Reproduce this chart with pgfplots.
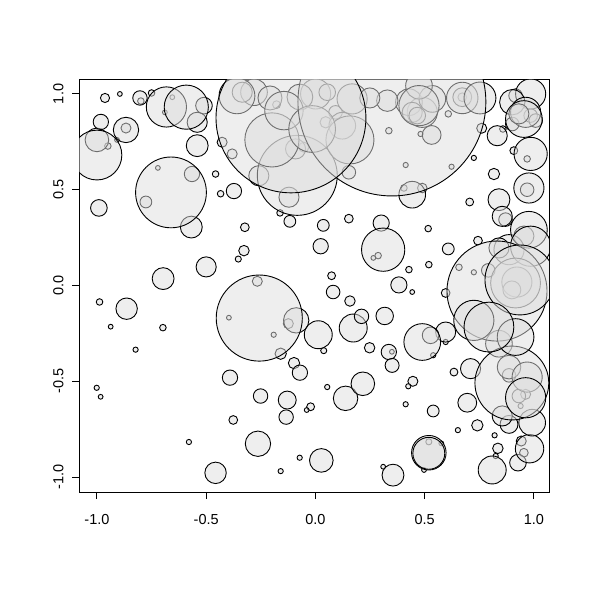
\documentclass[border=0pt]{standalone}
\usepackage{fontspec}
\setmainfont{Liberation Sans}
\usepackage{pgfplots}
\usepackage{pgfplotstable}
\pgfplotsset{compat=1.18}
\definecolor{cfill}{gray}{0.866}

% x y r  (r in x units)
\pgfplotstableread{
x y r
-0.950 0.728 0.015
-0.908 0.760 0.011
-0.963 0.979 0.021
-0.895 1.000 0.011
-0.799 0.963 0.015
-0.867 0.822 0.023
-0.776 0.436 0.027
-0.721 0.614 0.011
-0.457 0.582 0.015
-0.353 0.138 0.014
-0.323 0.304 0.020
-0.327 0.182 0.024
-0.988 -0.086 0.015
-0.937 -0.215 0.011
-0.698 -0.220 0.015
-0.823 -0.335 0.012
-1.001 -0.534 0.012
-0.983 -0.581 0.011
-0.396 -0.168 0.011
-0.376 -0.702 0.020
-0.579 -0.817 0.012
-0.022 -0.633 0.018
-0.040 -0.650 0.011
-0.072 -0.899 0.012
-0.159 -0.969 0.012
0.310 -0.946 0.011
0.081 -0.034 0.031
0.158 -0.081 0.024
-0.124 -0.199 0.023
-0.191 -0.257 0.012
0.038 -0.340 0.014
-0.159 -0.356 0.026
-0.098 -0.405 0.026
0.248 -0.325 0.024
0.350 -0.346 0.011
0.054 -0.530 0.012
-0.162 0.379 0.015
-0.117 0.335 0.027
0.036 0.314 0.027
0.153 0.349 0.020
0.287 0.156 0.015
0.265 0.144 0.011
0.074 0.051 0.018
-0.266 0.022 0.023
0.489 0.509 0.022
0.405 0.509 0.015
0.706 0.436 0.018
0.516 0.297 0.015
0.608 0.191 0.027
0.519 0.109 0.015
0.428 0.083 0.015
0.657 0.095 0.015
0.744 0.234 0.020
0.725 0.069 0.012
0.443 -0.034 0.011
0.596 -0.039 0.020
0.969 0.500 0.031
0.870 0.344 0.031
0.791 0.079 0.031
0.596 -0.295 0.012
0.539 -0.364 0.012
0.634 -0.452 0.018
0.446 -0.500 0.023
0.425 -0.526 0.012
0.886 -0.469 0.031
0.539 -0.655 0.027
0.413 -0.620 0.012
0.741 -0.730 0.026
0.652 -0.755 0.012
0.820 -0.782 0.012
0.519 -0.816 0.014
0.576 -0.824 0.011
0.497 -0.963 0.011
0.835 -0.850 0.024
0.825 -0.890 0.012
0.954 -0.873 0.020
0.942 -0.812 0.023
0.962 -0.568 0.023
0.931 -0.577 0.031
0.939 -0.629 0.012
0.672 0.983 0.020
0.608 0.896 0.015
0.481 0.791 0.012
0.413 0.629 0.012
0.623 0.620 0.012
0.725 0.666 0.012
0.761 0.821 0.023
0.858 0.817 0.015
0.908 0.704 0.018
0.969 0.661 0.015
0.817 0.582 0.026
0.985 0.887 0.031
0.901 0.843 0.031
1.008 0.861 0.031
0.916 0.991 0.031
-0.178 0.944 0.018
0.336 0.808 0.015
0.047 0.852 0.026
0.153 0.591 0.031
-0.053 0.722 0.023
0.092 0.904 0.031
-0.689 0.904 0.011
-0.655 0.983 0.011
-0.750 1.005 0.015
-0.427 0.748 0.023
-0.381 0.687 0.023
-0.434 0.479 0.015
}\tabS

\pgfplotstableread{
x y r
-1.000 0.760 0.054
-0.803 0.979 0.033
-0.982 0.854 0.035
-0.867 0.812 0.058
-0.565 0.582 0.035
-0.991 0.405 0.038
-0.568 0.305 0.050
-0.500 0.097 0.046
-0.697 0.036 0.050
-0.864 -0.121 0.049
-0.391 -0.481 0.035
-0.457 -0.978 0.049
-0.251 -0.577 0.033
-0.129 -0.598 0.041
-0.134 -0.687 0.033
0.138 -0.589 0.056
-0.263 -0.826 0.058
0.027 -0.913 0.054
0.355 -0.990 0.050
-0.088 -0.182 0.058
0.013 -0.257 0.064
-0.071 -0.455 0.035
0.173 -0.222 0.064
0.211 -0.161 0.033
0.317 -0.159 0.040
0.336 -0.347 0.035
0.351 -0.417 0.032
0.217 -0.513 0.054
-0.121 0.461 0.046
0.301 0.326 0.037
0.024 0.205 0.035
0.443 0.474 0.061
0.382 0.003 0.037
0.840 0.448 0.050
0.977 0.509 0.069
0.855 0.361 0.046
0.954 0.258 0.046
0.886 0.187 0.069
0.840 0.196 0.046
0.922 0.018 0.069
0.899 -0.023 0.041
0.596 -0.243 0.046
0.527 -0.260 0.038
0.710 -0.434 0.046
0.840 -0.304 0.061
0.886 -0.426 0.054
0.969 -0.478 0.069
0.695 -0.612 0.043
0.809 -0.963 0.064
0.927 -0.925 0.038
0.980 -0.852 0.065
0.886 -0.725 0.041
0.855 -0.681 0.046
0.992 -0.716 0.061
0.672 0.983 0.043
0.532 0.786 0.043
0.832 0.782 0.046
0.985 1.000 0.069
0.901 0.957 0.058
0.962 0.904 0.069
0.931 0.896 0.046
0.489 0.904 0.069
0.428 0.957 0.061
0.535 0.974 0.061
0.443 0.904 0.046
0.474 1.043 0.061
0.466 0.887 0.038
0.329 0.965 0.049
-0.259 0.573 0.046
-0.091 0.713 0.046
0.123 0.834 0.061
0.168 0.974 0.069
0.001 1.000 0.069
0.054 1.009 0.038
-0.281 1.009 0.061
-0.335 1.009 0.046
-0.541 0.852 0.046
-0.510 0.939 0.038
-0.541 0.730 0.050
-0.373 0.493 0.035
-0.208 0.979 0.055
-0.071 0.984 0.059
0.249 0.979 0.046
}\tabM

\pgfplotstableread{
x y r
-1.000 0.681 0.114
-0.661 0.486 0.162
-0.257 -0.170 0.197
-0.083 0.575 0.183
0.310 0.187 0.099
0.977 0.291 0.084
0.985 0.205 0.092
0.916 0.013 0.114
0.831 -0.029 0.229
0.936 0.029 0.160
0.725 -0.182 0.092
0.489 -0.295 0.084
0.899 -0.509 0.169
0.916 -0.269 0.084
0.794 -0.217 0.114
0.519 -0.873 0.079
0.519 -0.876 0.073
0.962 -0.586 0.092
0.672 0.979 0.072
0.753 0.979 0.073
0.985 0.687 0.076
0.954 0.869 0.084
0.474 0.939 0.092
-0.359 0.990 0.082
-0.199 0.760 0.124
0.158 0.760 0.110
-0.144 0.913 0.088
-0.015 0.817 0.107
-0.682 0.932 0.092
-0.591 0.931 0.101
0.350 0.958 0.430
-0.112 0.875 0.343
}\tabL

\pgfplotsset{
  bubbles/.style={
    scatter, only marks, mark=*,
    scatter/use mapped color={draw=black, fill=cfill},
    visualization depends on={218.5*\thisrow{r} \as \rad},
    scatter/@pre marker code/.append style={/tikz/mark size=\rad pt},
    mark options={fill opacity=0.5, line width=0.9pt},
  },
}

\begin{document}
\begin{tikzpicture}
\useasboundingbox (0,0) rectangle (591pt,590pt);
\begin{axis}[
    at={(79pt,98pt)}, anchor=south west,
    scale only axis,
    width=470pt, height=413pt,
    xmin=-1.082, xmax=1.069,
    ymin=-1.078, ymax=1.078,
    clip marker paths=true,
    axis line style={line width=0.9pt},
    tick style={line width=0.9pt, black},
    tick align=outside,
    xtick pos=left, ytick pos=left,
    major tick length=7pt,
    xtick={-1,-0.5,0,0.5,1},
    xticklabels={-1.0,-0.5,0.0,0.5,1.0},
    ytick={-1,-0.5,0,0.5,1},
    yticklabels={-1.0,-0.5,0.0,0.5,1.0},
    ticklabel style={font=\fontsize{14.5}{17}\selectfont},
    xticklabel style={yshift=-12pt},
    yticklabel style={rotate=90, anchor=south, yshift=5pt},
]
\addplot[bubbles] table {\tabS};
\addplot[bubbles] table {\tabM};
\addplot[bubbles] table {\tabL};
\end{axis}
\end{tikzpicture}
\end{document}
